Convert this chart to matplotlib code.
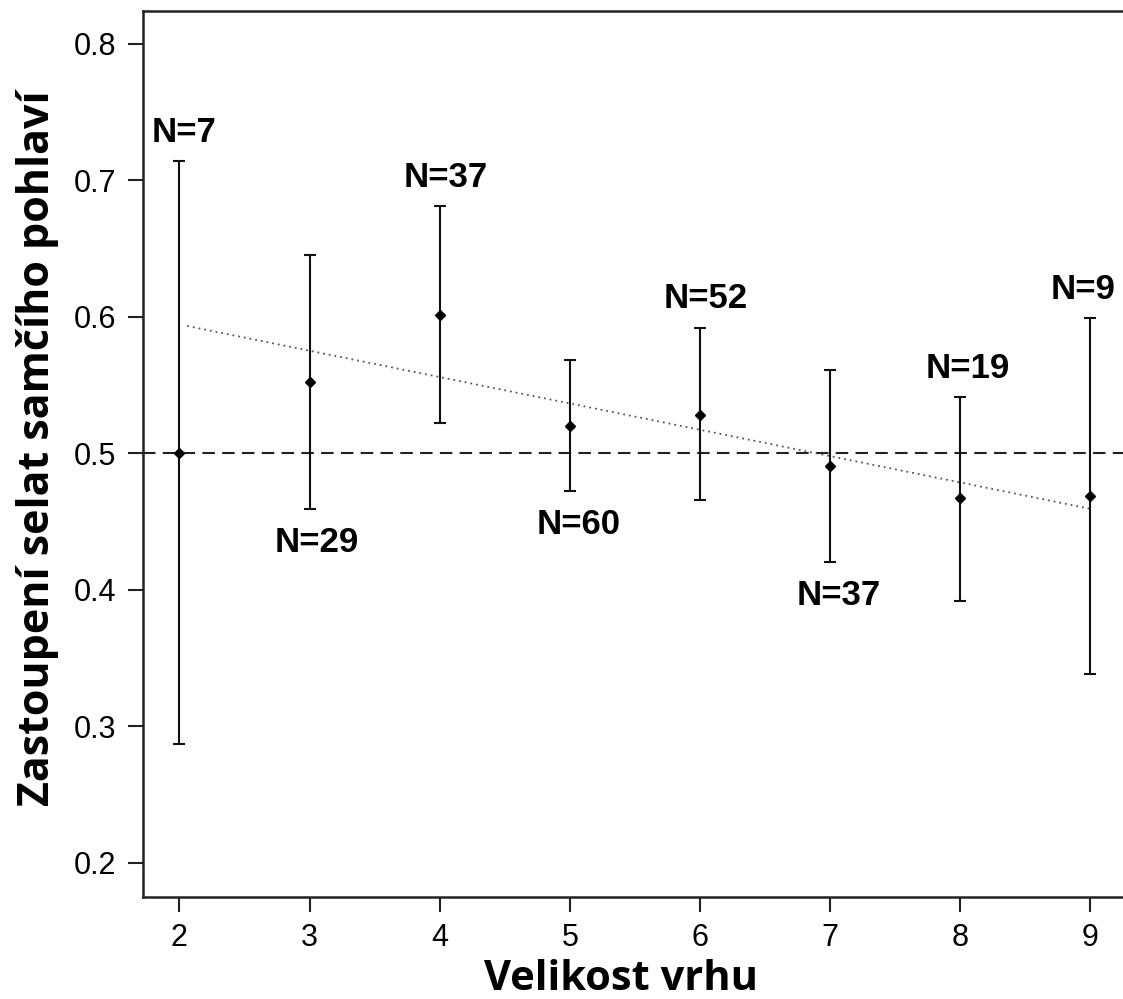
import numpy as np
import matplotlib
matplotlib.use('Agg')
from matplotlib import pyplot as plt

# data
litter_size = [2, 3, 4, 5, 6, 7, 8, 9]
male_share = [0.500, 0.552, 0.601, 0.520, 0.528, 0.491, 0.467, 0.469]
ci_upper = [0.714, 0.645, 0.681, 0.568, 0.592, 0.561, 0.541, 0.599]
ci_lower = [0.287, 0.459, 0.522, 0.472, 0.466, 0.420, 0.392, 0.338]
n_counts = [7, 29, 37, 60, 52, 37, 19, 9]
trend_slope = -0.0193
trend_intercept = 0.633
trend_range = [2.06, 9.0]
yticks = [0.2, 0.3, 0.4, 0.5, 0.6, 0.7, 0.8]

# label placement (layout only)
label_side = ['above', 'below', 'above', 'below', 'above', 'below', 'above', 'above']
label_dx = [3, 5, 4, 6, 4, 6, 5, -5]

fig = plt.figure(figsize=(11.23, 9.99), dpi=100)
ax = fig.add_axes([0.1273, 0.1021, 0.8727, 0.887])

x = np.array(litter_size)
y = np.array(male_share)
yerr = np.array([y - np.array(ci_lower), np.array(ci_upper) - y])

ax.axhline(0.5, color='#222222', linestyle=(0, (6, 3.5)), linewidth=1.5, zorder=1)

tx = np.array(trend_range)
ax.plot(tx, trend_intercept + trend_slope * tx, linestyle=(0, (1, 2.2)),
        color='#555555', linewidth=1.3, zorder=2)

ax.errorbar(x, y, yerr=yerr, fmt='D', color='black', markersize=5.5,
            ecolor='#111111', elinewidth=1.5, capsize=4.5, capthick=1.5, zorder=3)

for i in range(len(x)):
    if label_side[i] == 'above':
        ax.annotate('N=%d' % n_counts[i], (x[i], ci_upper[i]), xytext=(label_dx[i], 9),
                    textcoords='offset points', ha='center', va='bottom',
                    fontsize=25, fontweight='bold', family='Liberation Sans')
    else:
        ax.annotate('N=%d' % n_counts[i], (x[i], ci_lower[i]), xytext=(label_dx[i], -12),
                    textcoords='offset points', ha='center', va='top',
                    fontsize=25, fontweight='bold', family='Liberation Sans')

ax.set_xlim(1.72, 9.25)
ax.set_ylim(0.175, 0.824)
ax.set_xticks(litter_size)
ax.set_yticks(yticks)
ax.set_yticklabels(['%.1f' % t for t in yticks])

for lab in ax.get_xticklabels() + ax.get_yticklabels():
    lab.set_family('Liberation Sans')
    lab.set_fontsize(22)
ax.tick_params(axis='both', direction='out', length=11, width=1.5, color='#222222', pad=8)

ax.spines['right'].set_visible(False)
for s in ['left', 'top', 'bottom']:
    ax.spines[s].set_linewidth(1.8)
    ax.spines[s].set_color('#222222')

ax.set_xlabel('Velikost vrhu', fontsize=30, fontweight='bold', family='Open Sans')
ax.xaxis.set_label_coords(0.488, -0.070)
ax.set_ylabel('Zastoupení selat samčího pohlaví', fontsize=31, fontweight='bold', family='Open Sans')
ax.yaxis.set_label_coords(-0.086, 0.507)

fig.savefig('out.png', dpi=100)
